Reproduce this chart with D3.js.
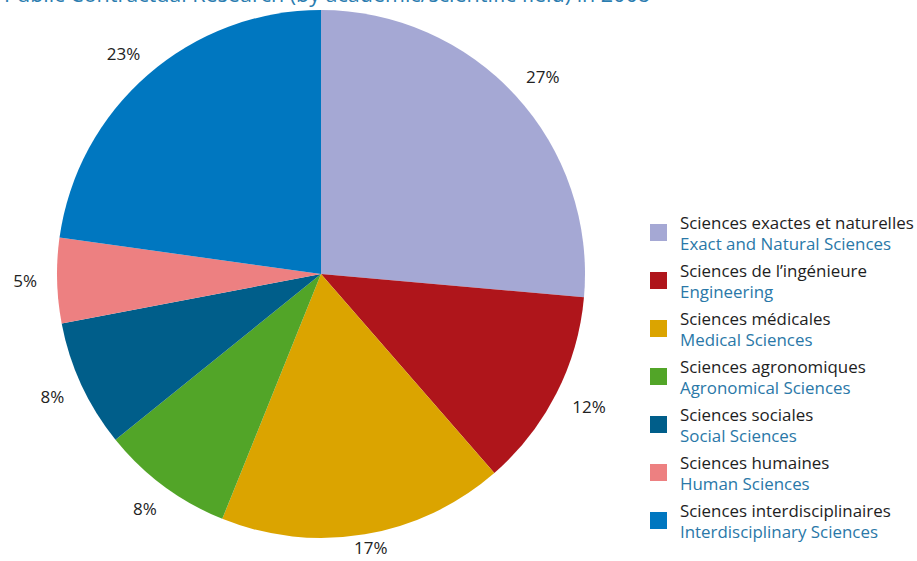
<!DOCTYPE html>
<html><head><meta charset="utf-8">
<script src="https://cdn.jsdelivr.net/npm/d3@7"></script>
<style>body{margin:0;background:#fff;} svg{display:block;}</style>
</head><body>
<svg id="c" width="917" height="561"></svg>
<script>
const titleText = "Public Contractual Research (by academic/scientific field) in 2008";
const frLabels = ["Sciences exactes et naturelles","Sciences de l\u2019ing\u00e9nieure","Sciences m\u00e9dicales","Sciences agronomiques","Sciences sociales","Sciences humaines","Sciences interdisciplinaires"];
const enLabels = ["Exact and Natural Sciences","Engineering","Medical Sciences","Agronomical Sciences","Social Sciences","Human Sciences","Interdisciplinary Sciences"];
const values = [26.4, 12.2, 17.5, 8.1, 7.8, 5.2, 22.8];
const pctLabels = ["27%","12%","17%","8%","8%","5%","23%"];
const colors = ["#a5a8d4","#af151b","#dba400","#52a528","#005e8a","#ed8081","#0077c0"];

const svg = d3.select("#c");
const font = "'Open Sans', 'Noto Sans', sans-serif";
const W = 917, H = 561;
const cx = 321, cy = 274, R = 264, gap = 20;

svg.append("text").attr("x", 650).attr("y", 2).attr("text-anchor","end").attr("font-family", font)
  .attr("font-size", 21.5).attr("fill", "#2b7db0").text(titleText);

const data = values.map((v,i)=>({v, i}));
const pie = d3.pie().value(d=>d.v).sort(null).startAngle(0).endAngle(2*Math.PI);
const arcs = pie(data);
const arc = d3.arc().innerRadius(0).outerRadius(R);
const g = svg.append("g").attr("transform", `translate(${cx},${cy})`);
g.selectAll("path").data(arcs).join("path").attr("d", arc).attr("fill", d=>colors[d.data.i]);
g.selectAll("text").data(arcs).join("text")
  .attr("text-anchor","middle").attr("dy","0.35em")
  .attr("font-family", font).attr("font-size", 17).attr("fill", "#222")
  .text(d=>pctLabels[d.data.i])
  .each(function(d){
    const bb = this.getBBox();
    const a = (d.startAngle + d.endAngle)/2;
    const s = Math.sin(a), c = -Math.cos(a);
    const x = (R+gap)*s + bb.width/2*s;
    let y = (R+gap)*c + 8*c;
    y = Math.min(y, H - cy - 13);
    d3.select(this).attr("x", x).attr("y", y);
  });

const lg = svg.append("g");
const yScale = d3.scaleLinear().domain([0,1]).range([229, 277]);
frLabels.forEach((f,i)=>{
  const y = yScale(i);
  lg.append("rect").attr("x", 650).attr("y", y-5).attr("width", 17).attr("height", 17).attr("fill", colors[i]);
  lg.append("text").attr("x", 680).attr("y", y).attr("font-family", font).attr("font-size", 16.9).attr("fill","#1e1e1e").text(f);
  lg.append("text").attr("x", 680).attr("y", y+21).attr("font-family", font).attr("font-size", 16.9).attr("fill","#2a78a8").text(enLabels[i]);
});
</script>
</body></html>
